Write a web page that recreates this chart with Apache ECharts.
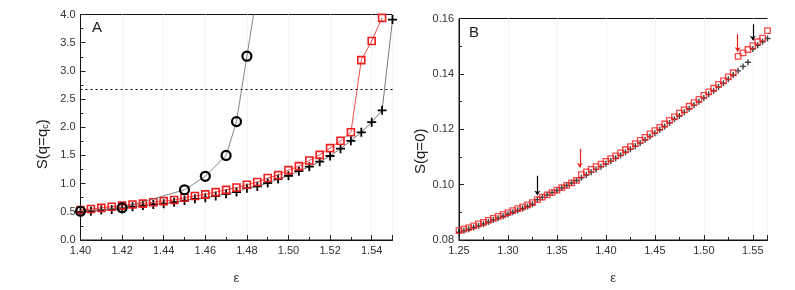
<!DOCTYPE html>
<html><head><meta charset="utf-8">
<script src="https://cdn.jsdelivr.net/npm/echarts@6/dist/echarts.min.js"></script>
<style>html,body{margin:0;padding:0;background:#fff}#c{width:795px;height:290px}</style>
</head><body><div id="c"></div>
<script>
// ---- Panel A data ----
const epsA = [1.400,1.405,1.410,1.415,1.420,1.425,1.430,1.435,1.440,1.445,1.450,1.455,1.460,1.465,1.470,1.475,1.480,1.485,1.490,1.495,1.500,1.505,1.510,1.515,1.520,1.525,1.530,1.535,1.540,1.545,1.550];
const squaresA = [0.53,0.55,0.57,0.59,0.61,0.63,0.645,0.67,0.69,0.71,0.75,0.78,0.81,0.85,0.89,0.93,0.98,1.03,1.10,1.15,1.24,1.31,1.41,1.51,1.63,1.76,1.91,3.19,3.53,3.94];
const crossesA = [0.50,0.51,0.53,0.54,0.56,0.59,0.61,0.63,0.645,0.67,0.70,0.73,0.75,0.78,0.82,0.85,0.92,0.95,1.01,1.08,1.14,1.22,1.30,1.39,1.49,1.62,1.76,1.91,2.09,2.30,3.91];
const epsCircles = [1.400,1.420,1.450,1.460,1.470,1.475,1.480,1.485];
const circlesA = [0.51,0.57,0.89,1.13,1.50,2.10,3.26,4.40];
const thresholdA = 2.67;
const xTicksA = {min:1.40, max:1.55, interval:0.02};
const yTicksA = {min:0, max:4, interval:0.5};

// ---- Panel B data ----
const epsB = [1.250,1.255,1.260,1.265,1.270,1.275,1.280,1.285,1.290,1.295,1.300,1.305,1.310,1.315,1.320,1.325,1.330,1.335,1.340,1.345,1.350,1.355,1.360,1.365,1.370,1.375,1.380,1.385,1.390,1.395,1.400,1.405,1.410,1.415,1.420,1.425,1.430,1.435,1.440,1.445,1.450,1.455,1.460,1.465,1.470,1.475,1.480,1.485,1.490,1.495,1.500,1.505,1.510,1.515,1.520,1.525,1.530,1.535,1.540,1.545,1.550,1.555,1.560,1.565];
const squaresB = [.0834,.0839,.0845,.0851,.0858,.0864,.0871,.0878,.0885,.0892,.0899,.0906,.0913,.0920,.0927,.0935,.0946,.0955,.0963,.0971,.0980,.0989,.0997,.1006,.1015,.1036,.1046,.1055,.1065,.1074,.1084,.1094,.1104,.1115,.1126,.1137,.1148,.1160,.1171,.1183,.1195,.1207,.1219,.1232,.1245,.1258,.1270,.1283,.1296,.1308,.1322,.1335,.1348,.1362,.1375,.1389,.1404,.1463,.1476,.1488,.1502,.1516,.1529,.1556];
const crossesB = [.0828,.0833,.0839,.0845,.0851,.0858,.0865,.0872,.0879,.0886,.0893,.0900,.0907,.0914,.0921,.0929,.0946,.0954,.0963,.0971,.0979,.0988,.0997,.1006,.1015,.1025,.1035,.1045,.1055,.1065,.1075,.1085,.1095,.1106,.1117,.1128,.1139,.1150,.1162,.1174,.1186,.1198,.1210,.1223,.1236,.1248,.1261,.1274,.1287,.1299,.1313,.1326,.1339,.1353,.1366,.1381,.1396,.1411,.1427,.1442,.1490,.1503,.1516,.1528];
// arrows: [x, yStart, yEnd]
const arrowsBlackB = [[1.330,0.1032,0.0962],[1.550,0.1579,0.1521]];
const arrowsRedB = [[1.3733,0.1129,0.1062],[1.5346,0.1544,0.1480]];
const xTicksB = {min:1.25, max:1.565, interval:0.05};
const yTicksB = {min:0.08, max:0.16, interval:0.02};

const RED = '#f01e1e';
const CROSS = 'path://M5,0L5,10M0,5L10,5';
const pair = (xs, ys) => ys.map((y, i) => [xs[i], y]);

function xAxisCfg(grid, t, dec) {
  return {
    type:'value', gridIndex:grid, min:t.min, max:t.max, interval:t.interval,
    name:'\u03b5', nameLocation:'middle', nameGap:32,
    nameTextStyle:{fontSize:13, color:'#333', fontFamily:'Liberation Sans'},
    axisLine:{show:true, onZero:false, lineStyle:{color:'#111', width:1}},
    axisTick:{show:true, inside:true, length:5, lineStyle:{color:'#222'}},
    minorTick:{show:true, splitNumber:2, length:3, lineStyle:{color:'#222'}},
    axisLabel:{fontSize:11, color:'#333', margin:5, fontFamily:'Liberation Sans',
      formatter:v => v.toFixed(dec), showMaxLabel:false},
    splitLine:{show:true, lineStyle:{color:'#f3f3f3', width:1}}
  };
}
function yAxisCfg(grid, t, dec, name, pad, gap) {
  return {
    type:'value', gridIndex:grid, min:t.min, max:t.max, interval:t.interval,
    name:name, nameLocation:'middle', nameGap:gap, nameRotate:90,
    nameTextStyle:{fontSize:15, color:'#222', fontFamily:'Liberation Sans', padding:[0,pad,0,0],
      rich:{a:{fontSize:15, color:'#222', fontFamily:'Liberation Sans'},
            b:{fontSize:9, color:'#222', fontFamily:'Liberation Sans', verticalAlign:'bottom', padding:[6,0,0,0]}}},
    axisLine:{show:true, lineStyle:{color:'#111', width:1}},
    axisTick:{show:true, inside:true, length:5, lineStyle:{color:'#222'}},
    minorTick:{show:true, splitNumber:2, length:3, lineStyle:{color:'#222'}},
    axisLabel:{fontSize:11, color:'#333', margin:5, fontFamily:'Liberation Sans',
      formatter:v => v.toFixed(dec)},
    splitLine:{show:false}
  };
}
function arrowLines(list) {
  return list.map(a => [{coord:[a[0], a[1]]}, {coord:[a[0], a[2]]}]);
}

const chart = echarts.init(document.getElementById('c'), null, {renderer:'canvas'});
chart.setOption({
  animation:false,
  backgroundColor:'#fff',
  grid:[
    {left:80.5, top:14.5, right:402.5, bottom:41.5, show:true, borderColor:'#111', borderWidth:1, backgroundColor:'transparent'},
    {left:459, top:18.5, right:27.5, bottom:41.5, show:true, borderColor:'#111', borderWidth:1, backgroundColor:'transparent'}
  ],
  xAxis:[xAxisCfg(0, xTicksA, 2), xAxisCfg(1, xTicksB, 2)],
  yAxis:[yAxisCfg(0, yTicksA, 1, '{a|S(q=q}{b|c}{a|)}', 34, 30), yAxisCfg(1, yTicksB, 2, 'S(q=0)', 44, 29)],
  graphic:[
    {type:'text', left:92, top:20, style:{text:'A', fontSize:15, fill:'#222', fontFamily:'Liberation Sans'}},
    {type:'text', left:469, top:25, style:{text:'B', fontSize:15, fill:'#222', fontFamily:'Liberation Sans'}}
  ],
  series:[
    {type:'line', xAxisIndex:0, yAxisIndex:0, data:pair(epsA, crossesA), clip:true,
     symbol:CROSS, symbolSize:9, lineStyle:{color:'#555', width:0.8},
     itemStyle:{color:'rgba(0,0,0,0)', borderColor:'#000', borderWidth:1.8}, z:2,
     markLine:{silent:true, symbol:['none','none'], label:{show:false},
       lineStyle:{color:'#000', type:[2,3], width:1.2}, data:[{yAxis:thresholdA}]}},
    {type:'line', xAxisIndex:0, yAxisIndex:0, data:pair(epsA, squaresA), clip:true,
     symbol:'rect', symbolSize:7, lineStyle:{color:RED, width:0.8},
     itemStyle:{color:'rgba(0,0,0,0)', borderColor:RED, borderWidth:1.6}, z:3},
    {type:'line', xAxisIndex:0, yAxisIndex:0, data:pair(epsCircles, circlesA), clip:true,
     symbol:'circle', symbolSize:9, lineStyle:{color:'#666', width:0.8},
     itemStyle:{color:'rgba(0,0,0,0)', borderColor:'#000', borderWidth:2.2}, z:4},
    {type:'scatter', xAxisIndex:1, yAxisIndex:1, data:pair(epsB, crossesB), clip:true,
     symbol:CROSS, symbolSize:6, itemStyle:{color:'rgba(0,0,0,0)', borderColor:'#111', borderWidth:1.4}, z:2,
     markLine:{silent:true, symbol:['none','arrow'], symbolSize:4.5, label:{show:false},
       lineStyle:{color:'#000', type:'solid', width:1.2}, data:arrowLines(arrowsBlackB)}},
    {type:'scatter', xAxisIndex:1, yAxisIndex:1, data:pair(epsB, squaresB), clip:true,
     symbol:'rect', symbolSize:5.5, itemStyle:{color:'rgba(0,0,0,0)', borderColor:RED, borderWidth:1.3}, z:3,
     markLine:{silent:true, symbol:['none','arrow'], symbolSize:4.5, label:{show:false},
       lineStyle:{color:RED, type:'solid', width:1.2}, data:arrowLines(arrowsRedB)}}
  ]
});
</script></body></html>
